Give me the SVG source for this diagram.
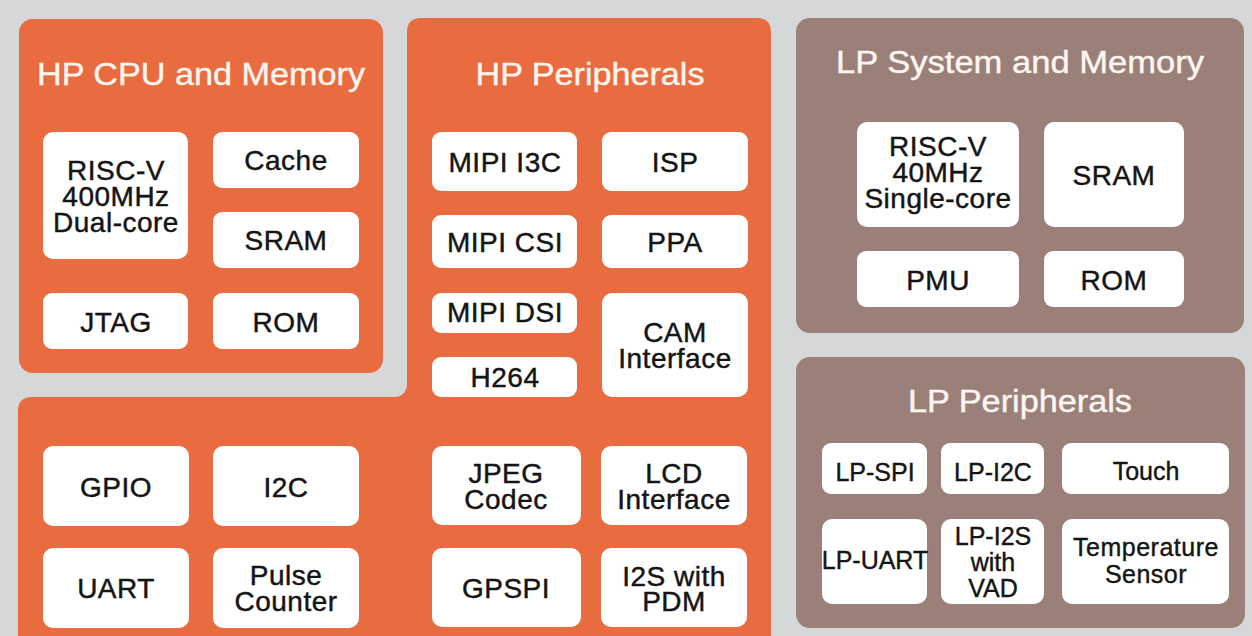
<svg xmlns="http://www.w3.org/2000/svg" width="1252" height="636" viewBox="0 0 1252 636">
<style>
.bg{fill:#d5d7d9}
.hp{fill:#e86c3f}
.lp{fill:#9a8079}
.box{fill:#ffffff}
.title{font-family:"Liberation Sans",Arial,sans-serif;font-size:31px;fill:#fdf6f0;stroke:#fdf6f0;stroke-width:0.4px;text-anchor:middle}
.t{font-family:"Liberation Sans",Arial,sans-serif;font-size:28px;fill:#151515;stroke:#151515;stroke-width:0.45px;text-anchor:middle;letter-spacing:0.5px}
.s{font-family:"Liberation Sans",Arial,sans-serif;font-size:25px;fill:#151515;stroke:#151515;stroke-width:0.4px;text-anchor:middle}
</style>
<rect class="bg" x="0" y="0" width="1252" height="636"/>

<g id="hp-cpu-memory">
  <rect class="hp" x="19" y="19" width="364" height="354" rx="14"/>
  <text class="title" x="201" y="85" textLength="328" lengthAdjust="spacingAndGlyphs">HP CPU and Memory</text>
  <g id="hp-riscv">
    <rect class="box" x="43" y="132" width="145" height="127" rx="10"/>
    <text class="t"><tspan x="116" y="180">RISC-V</tspan><tspan x="116" y="206">400MHz</tspan><tspan x="116" y="232">Dual-core</tspan></text>
  </g>
  <g id="hp-cache"><rect class="box" x="213" y="132" width="146" height="56" rx="9"/><text class="t" x="286" y="170">Cache</text></g>
  <g id="hp-sram"><rect class="box" x="213" y="212" width="146" height="56" rx="9"/><text class="t" x="286" y="250">SRAM</text></g>
  <g id="hp-jtag"><rect class="box" x="43" y="293" width="145" height="56" rx="9"/><text class="t" x="116" y="332">JTAG</text></g>
  <g id="hp-rom"><rect class="box" x="213" y="293" width="146" height="56" rx="9"/><text class="t" x="286" y="332">ROM</text></g>
</g>

<g id="hp-peripherals">
  <path class="hp" d="M421,18 H757 Q771,18 771,32 V660 H18 V411 Q18,397 32,397 H393 Q407,397 407,383 V32 Q407,18 421,18 Z"/>
  <text class="title" x="590" y="85" textLength="229" lengthAdjust="spacingAndGlyphs">HP Peripherals</text>
  <g id="mipi-i3c"><rect class="box" x="432" y="132" width="145" height="59" rx="9"/><text class="t" x="505" y="172">MIPI I3C</text></g>
  <g id="isp"><rect class="box" x="602" y="132" width="146" height="59" rx="9"/><text class="t" x="675" y="172">ISP</text></g>
  <g id="mipi-csi"><rect class="box" x="432" y="215" width="145" height="53" rx="9"/><text class="t" x="505" y="252">MIPI CSI</text></g>
  <g id="ppa"><rect class="box" x="602" y="215" width="146" height="53" rx="9"/><text class="t" x="675" y="252">PPA</text></g>
  <g id="mipi-dsi"><rect class="box" x="432" y="293" width="145" height="40" rx="9"/><text class="t" x="505" y="322">MIPI DSI</text></g>
  <g id="h264"><rect class="box" x="432" y="357" width="145" height="40" rx="9"/><text class="t" x="505" y="387">H264</text></g>
  <g id="cam"><rect class="box" x="602" y="293" width="146" height="104" rx="10"/><text class="t"><tspan x="675" y="342">CAM</tspan><tspan x="675" y="368">Interface</tspan></text></g>
  <g id="gpio"><rect class="box" x="43" y="446" width="146" height="80" rx="10"/><text class="t" x="116" y="497">GPIO</text></g>
  <g id="i2c"><rect class="box" x="213" y="446" width="146" height="80" rx="10"/><text class="t" x="286" y="497">I2C</text></g>
  <g id="uart"><rect class="box" x="43" y="548" width="146" height="80" rx="10"/><text class="t" x="116" y="598">UART</text></g>
  <g id="pulse-counter"><rect class="box" x="213" y="548" width="146" height="80" rx="10"/><text class="t"><tspan x="286" y="585">Pulse</tspan><tspan x="286" y="611">Counter</tspan></text></g>
  <g id="jpeg"><rect class="box" x="432" y="446" width="149" height="79" rx="10"/><text class="t"><tspan x="506" y="483">JPEG</tspan><tspan x="506" y="509">Codec</tspan></text></g>
  <g id="lcd"><rect class="box" x="601" y="446" width="146" height="79" rx="10"/><text class="t"><tspan x="674" y="483">LCD</tspan><tspan x="674" y="509">Interface</tspan></text></g>
  <g id="gpspi"><rect class="box" x="432" y="548" width="149" height="79" rx="10"/><text class="t" x="506" y="598">GPSPI</text></g>
  <g id="i2s-pdm"><rect class="box" x="601" y="548" width="146" height="79" rx="10"/><text class="t"><tspan x="674" y="586">I2S with</tspan><tspan x="674" y="611">PDM</tspan></text></g>
</g>

<g id="lp-system-memory">
  <rect class="lp" x="796" y="18" width="448" height="315" rx="14"/>
  <text class="title" x="1020" y="73" textLength="368" lengthAdjust="spacingAndGlyphs">LP System and Memory</text>
  <g id="lp-riscv"><rect class="box" x="857" y="122" width="162" height="105" rx="10"/><text class="t"><tspan x="938" y="156">RISC-V</tspan><tspan x="938" y="182">40MHz</tspan><tspan x="938" y="208">Single-core</tspan></text></g>
  <g id="lp-sram"><rect class="box" x="1044" y="122" width="140" height="105" rx="10"/><text class="t" x="1114" y="185">SRAM</text></g>
  <g id="pmu"><rect class="box" x="857" y="251" width="162" height="56" rx="9"/><text class="t" x="938" y="290">PMU</text></g>
  <g id="lp-rom"><rect class="box" x="1044" y="251" width="140" height="56" rx="9"/><text class="t" x="1114" y="290">ROM</text></g>
</g>

<g id="lp-peripherals">
  <rect class="lp" x="796" y="357" width="449" height="271" rx="14"/>
  <text class="title" x="1020" y="412" textLength="224" lengthAdjust="spacingAndGlyphs">LP Peripherals</text>
  <g id="lp-spi"><rect class="box" x="822" y="443" width="105" height="51" rx="9"/><text class="s" x="875" y="481">LP-SPI</text></g>
  <g id="lp-i2c"><rect class="box" x="941" y="443" width="103" height="51" rx="9"/><text class="s" x="993" y="481">LP-I2C</text></g>
  <g id="touch"><rect class="box" x="1062" y="443" width="167" height="51" rx="9"/><text class="s" x="1146" y="480">Touch</text></g>
  <g id="lp-uart"><rect class="box" x="822" y="519" width="105" height="85" rx="10"/><text class="s" x="875" y="569" font-size="24">LP-UART</text></g>
  <g id="lp-i2s"><rect class="box" x="941" y="519" width="103" height="85" rx="10"/><text class="s"><tspan x="993" y="545">LP-I2S</tspan><tspan x="993" y="571">with</tspan><tspan x="993" y="597">VAD</tspan></text></g>
  <g id="temp-sensor"><rect class="box" x="1062" y="519" width="167" height="85" rx="10"/><text class="s" font-size="26" letter-spacing="0.5"><tspan x="1146" y="556">Temperature</tspan><tspan x="1146" y="583">Sensor</tspan></text></g>
</g>

<g id="connectors"/>
</svg>
